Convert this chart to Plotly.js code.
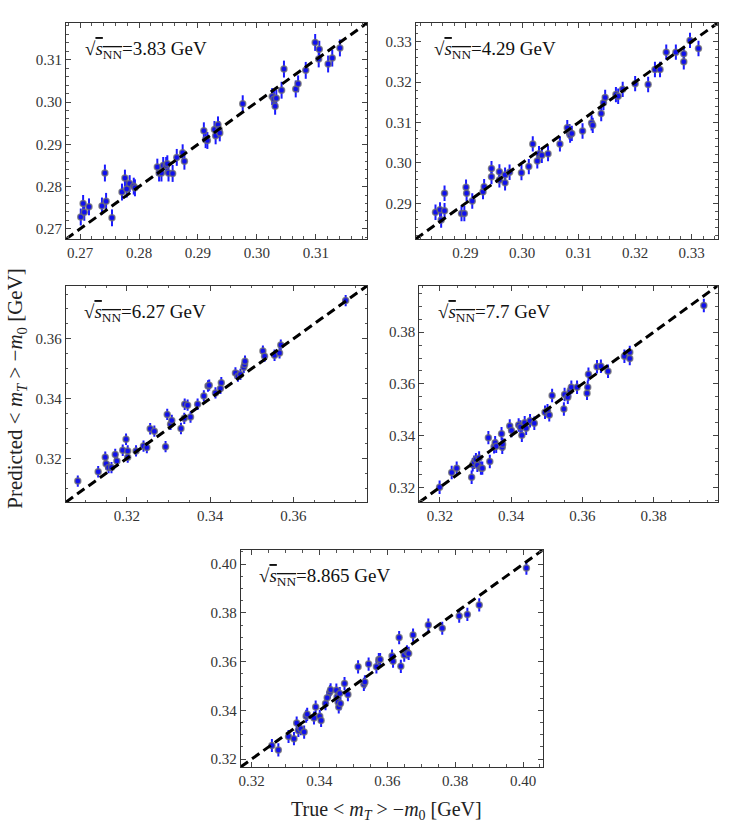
<!DOCTYPE html>
<html>
<head>
<meta charset="utf-8">
<script src="https://cdn.plot.ly/plotly-3.0.1.min.js"></script>
<style>
  body { margin: 0; background: white; }
  #chart { width: 747px; height: 828px; }
</style>
</head>
<body>
<div id="chart"></div>
<script>
// energies, one per panel
const energies = ['3.83', '4.29', '6.27', '7.7', '8.865'];

// 3.83 GeV
const true383 = [0.2701, 0.2705, 0.2707, 0.2715, 0.2737, 0.2742, 0.2744, 0.2754, 0.2771, 0.2776,
  0.2779, 0.2784, 0.2791, 0.2793, 0.2831, 0.2834, 0.2838, 0.2841, 0.2846, 0.2850, 0.2848, 0.2857,
  0.2864, 0.2874, 0.2877, 0.2910, 0.2913, 0.2916, 0.2928, 0.2930, 0.2934, 0.2936, 0.2937, 0.2976,
  0.3026, 0.3029, 0.3031, 0.3033, 0.3042, 0.3046, 0.3066, 0.3070, 0.3083, 0.3099, 0.3106, 0.3105,
  0.3121, 0.3128, 0.3141];
const pred383 = [0.2728, 0.2760, 0.2739, 0.2752, 0.2754, 0.2832, 0.2765, 0.2726, 0.2787, 0.2820,
  0.2794, 0.2807, 0.2801, 0.2797, 0.2846, 0.2832, 0.2832, 0.2850, 0.2850, 0.2832, 0.2854, 0.2831,
  0.2869, 0.2880, 0.2860, 0.2932, 0.2911, 0.2909, 0.2935, 0.2920, 0.2946, 0.2935, 0.2927, 0.2996,
  0.3013, 0.3007, 0.2990, 0.3009, 0.3028, 0.3078, 0.3031, 0.3043, 0.3075, 0.3141, 0.3125, 0.3102,
  0.3090, 0.3104, 0.3128];

// 4.29 GeV
const true429 = [0.2847, 0.2855, 0.2857, 0.2863, 0.2863, 0.2893, 0.2898, 0.2901, 0.2902, 0.2912,
  0.2931, 0.2933, 0.2946, 0.2946, 0.2960, 0.2960, 0.2970, 0.2970, 0.2978, 0.2999, 0.3012, 0.3019,
  0.3027, 0.3030, 0.3035, 0.3046, 0.3067, 0.3080, 0.3084, 0.3085, 0.3088, 0.3107, 0.3123, 0.3125,
  0.3140, 0.3144, 0.3147, 0.3166, 0.3170, 0.3178, 0.3200, 0.3223, 0.3235, 0.3244, 0.3255, 0.3272,
  0.3286, 0.3286, 0.3297, 0.3312];
const pred429 = [0.2878, 0.2884, 0.2859, 0.2925, 0.2882, 0.2875, 0.2875, 0.2940, 0.2925, 0.2906,
  0.2929, 0.2941, 0.2966, 0.2986, 0.2978, 0.2958, 0.2970, 0.2951, 0.2977, 0.2976, 0.2991, 0.3047,
  0.3005, 0.3023, 0.3019, 0.3023, 0.3047, 0.3087, 0.3077, 0.3069, 0.3073, 0.3079, 0.3099, 0.3093,
  0.3122, 0.3149, 0.3162, 0.3169, 0.3165, 0.3182, 0.3196, 0.3194, 0.3231, 0.3231, 0.3274, 0.3274,
  0.3270, 0.3250, 0.3303, 0.3283];

// 6.27 GeV
const true627 = [0.3082, 0.3131, 0.3148, 0.3150, 0.3156, 0.3163, 0.3172, 0.3176, 0.3190, 0.3198,
  0.3202, 0.3202, 0.3222, 0.3240, 0.3248, 0.3256, 0.3266, 0.3293, 0.3297, 0.3305, 0.3308, 0.3330,
  0.3338, 0.3339, 0.3346, 0.3353, 0.3370, 0.3385, 0.3395, 0.3398, 0.3413, 0.3427, 0.3425, 0.3461,
  0.3467, 0.3473, 0.3481, 0.3483, 0.3484, 0.3527, 0.3531, 0.3555, 0.3567, 0.3570, 0.3726];
const pred627 = [0.3124, 0.3155, 0.3204, 0.3182, 0.3169, 0.3169, 0.3213, 0.3191, 0.3227, 0.3264,
  0.3225, 0.3204, 0.3225, 0.3241, 0.3236, 0.3299, 0.3291, 0.3239, 0.3347, 0.3314, 0.3327, 0.3300,
  0.3334, 0.3381, 0.3378, 0.3338, 0.3381, 0.3409, 0.3442, 0.3445, 0.3419, 0.3453, 0.3434, 0.3486,
  0.3475, 0.3481, 0.3505, 0.3514, 0.3525, 0.3559, 0.3542, 0.3545, 0.3553, 0.3579, 0.3728];

// 7.7 GeV
const true77 = [0.3199, 0.3233, 0.3247, 0.3289, 0.3292, 0.3296, 0.3301, 0.3305, 0.3310, 0.3315,
  0.3319, 0.3336, 0.3340, 0.3352, 0.3355, 0.3358, 0.3373, 0.3375, 0.3376, 0.3396, 0.3401, 0.3421,
  0.3426, 0.3430, 0.3438, 0.3442, 0.3453, 0.3465, 0.3495, 0.3502, 0.3507, 0.3515, 0.3548, 0.3550,
  0.3559, 0.3566, 0.3569, 0.3585, 0.3613, 0.3615, 0.3617, 0.3641, 0.3652, 0.3672, 0.3718, 0.3733,
  0.3733, 0.3941];
const pred77 = [0.3200, 0.3257, 0.3274, 0.3239, 0.3287, 0.3297, 0.3307, 0.3285, 0.3313, 0.3274,
  0.3274, 0.3392, 0.3300, 0.3357, 0.3372, 0.3359, 0.3407, 0.3355, 0.3366, 0.3437, 0.3420, 0.3441,
  0.3433, 0.3401, 0.3450, 0.3428, 0.3457, 0.3448, 0.3490, 0.3496, 0.3480, 0.3555, 0.3503, 0.3559,
  0.3548, 0.3574, 0.3587, 0.3587, 0.3564, 0.3587, 0.3637, 0.3666, 0.3668, 0.3649, 0.3707, 0.3698,
  0.3722, 0.3903];

// 8.865 GeV
const true8865 = [0.3260, 0.3279, 0.3309, 0.3325, 0.3333, 0.3338, 0.3345, 0.3355, 0.3361, 0.3364,
  0.3384, 0.3389, 0.3401, 0.3405, 0.3418, 0.3423, 0.3431, 0.3433, 0.3450, 0.3452, 0.3455, 0.3457,
  0.3460, 0.3462, 0.3474, 0.3484, 0.3514, 0.3531, 0.3534, 0.3545, 0.3568, 0.3575, 0.3579, 0.3614,
  0.3617, 0.3635, 0.3640, 0.3650, 0.3658, 0.3663, 0.3676, 0.3721, 0.3762, 0.3812, 0.3836, 0.3871,
  0.4010];
const pred8865 = [0.3256, 0.3238, 0.3293, 0.3284, 0.3348, 0.3318, 0.3325, 0.3311, 0.3376, 0.3384,
  0.3369, 0.3414, 0.3376, 0.3359, 0.3428, 0.3452, 0.3476, 0.3485, 0.3483, 0.3455, 0.3435, 0.3414,
  0.3469, 0.3428, 0.3510, 0.3465, 0.3579, 0.3507, 0.3517, 0.3590, 0.3579, 0.3609, 0.3609, 0.3623,
  0.3602, 0.3699, 0.3581, 0.3627, 0.3640, 0.3634, 0.3709, 0.3750, 0.3737, 0.3787, 0.3794, 0.3833,
  0.3984];

const trueVals = [true383, true429, true627, true77, true8865];
const predVals = [pred383, pred429, pred627, pred77, pred8865];
const errVals = [0.0020, 0.0019, 0.0019, 0.0026, 0.0027];

// axis ranges (same on x and y) and tick steps
const ranges = [[0.2676, 0.3187], [0.2812, 0.3346], [0.3053, 0.3778], [0.3142, 0.3980], [0.3168, 0.4058]];
const dticks = [0.01, 0.01, 0.02, 0.02, 0.02];
const minorTicks = [0.002, 0.002, 0.005, 0.005, 0.005];

// panel boxes in paper coords
const xDomains = [[0.0884, 0.4913], [0.5565, 0.9608], [0.0880, 0.4917], [0.5613, 0.9608], [0.3222, 0.7265]];
const yDomains = [[0.7114, 0.9722], [0.7114, 0.9722], [0.3934, 0.6550], [0.3934, 0.6550], [0.0737, 0.3357]];

const data = [];
const layout = {
  width: 747,
  height: 828,
  margin: {l: 0, r: 0, t: 0, b: 0},
  paper_bgcolor: 'white',
  plot_bgcolor: 'white',
  showlegend: false,
  font: {family: 'Liberation Serif, serif', color: '#222'},
  annotations: []
};

energies.forEach((e, i) => {
  const n = i === 0 ? '' : String(i + 1);
  const xa = 'x' + n, ya = 'y' + n;

  data.push({
    x: trueVals[i],
    y: predVals[i],
    xaxis: xa,
    yaxis: ya,
    type: 'scatter',
    mode: 'markers',
    marker: {color: '#1010ee', size: 6, line: {color: 'rgba(110,110,110,0.75)', width: 1.5}},
    error_y: {type: 'constant', value: errVals[i], color: '#1a1aff', thickness: 2, width: 0}
  });

  data.push({
    x: ranges[i],
    y: ranges[i],
    xaxis: xa,
    yaxis: ya,
    type: 'scatter',
    mode: 'lines',
    line: {color: 'black', width: 3, dash: '9px,5px'},
    hoverinfo: 'skip'
  });

  const axisCommon = {
    range: ranges[i],
    dtick: dticks[i],
    tick0: 0,
    tickformat: '.2f',
    ticks: 'inside',
    ticklen: 5,
    tickcolor: '#444',
    showline: true,
    linecolor: '#333',
    linewidth: 1,
    mirror: 'allticks',
    showgrid: false,
    zeroline: false,
    tickfont: {family: 'Liberation Serif, serif', size: 15, color: '#333'},
    minor: {dtick: minorTicks[i], ticks: 'inside', ticklen: 2.5, tickcolor: '#555', showgrid: false}
  };

  layout['xaxis' + n] = Object.assign({}, axisCommon, {domain: xDomains[i], anchor: ya});
  layout['yaxis' + n] = Object.assign({}, axisCommon, {domain: yDomains[i], anchor: xa});

  layout.annotations.push({
    text: '√<span style="text-decoration:overline"><i>s</i><sub>NN</sub></span>=' + e + ' GeV',
    xref: xa + ' domain',
    yref: ya + ' domain',
    x: 0.055,
    y: 0.875,
    xanchor: 'left',
    yanchor: 'middle',
    showarrow: false,
    font: {family: 'Liberation Serif, serif', size: 19, color: '#111'}
  });
});

layout.annotations.push({
  text: 'Predicted < <i>m<sub>T</sub></i> > −<i>m</i><sub>0</sub> [GeV]',
  xref: 'paper', yref: 'paper',
  x: 0.022, y: 0.531,
  xanchor: 'center', yanchor: 'middle',
  textangle: -90,
  showarrow: false,
  font: {family: 'Liberation Serif, serif', size: 21, color: '#222'}
});

layout.annotations.push({
  text: 'True < <i>m<sub>T</sub></i> > −<i>m</i><sub>0</sub> [GeV]',
  xref: 'paper', yref: 'paper',
  x: 0.518, y: 0.004,
  xanchor: 'center', yanchor: 'bottom',
  showarrow: false,
  font: {family: 'Liberation Serif, serif', size: 20, color: '#222'}
});

Plotly.newPlot('chart', data, layout, {displayModeBar: false, staticPlot: true});
</script>
</body>
</html>
